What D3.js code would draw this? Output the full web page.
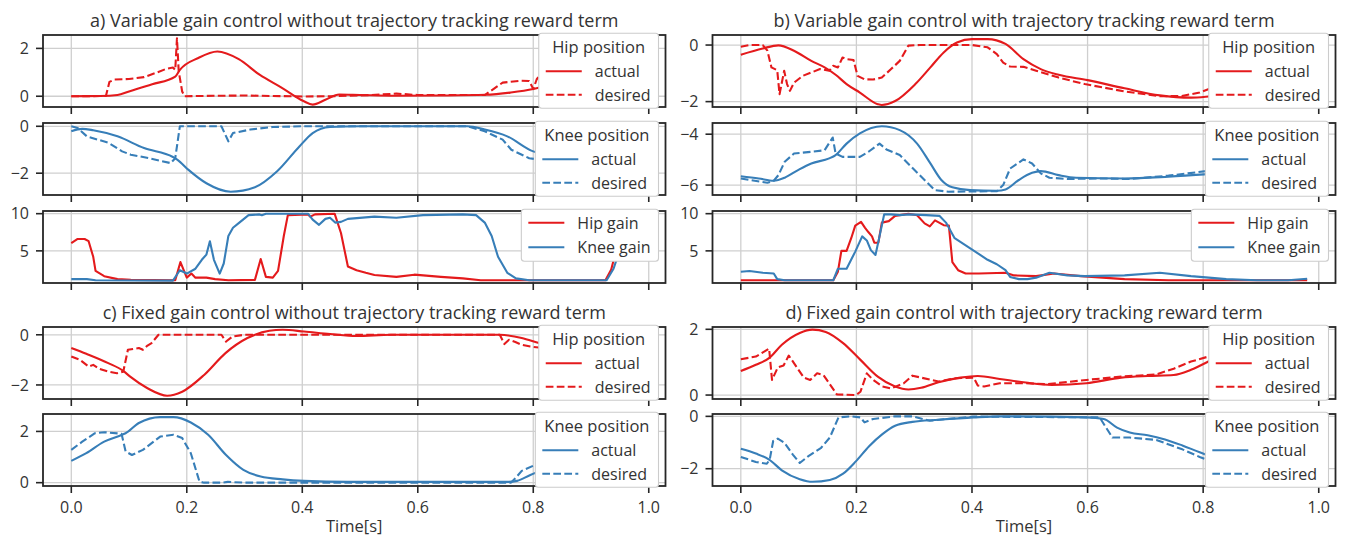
<!DOCTYPE html>
<html>
<head>
<meta charset="utf-8">
<script src="https://cdnjs.cloudflare.com/ajax/libs/d3/7.8.5/d3.min.js"></script>
<style>
  body { margin: 0; background: #fff; }
  text { font-family: "Open Sans", sans-serif; fill: #333; }
</style>
</head>
<body>
<script>
// time in seconds
var xTicks = [0, 0.2, 0.4, 0.6, 0.8, 1.0];
var titles = [
  "a) Variable gain control without trajectory tracking reward term",
  "b) Variable gain control with trajectory tracking reward term",
  "c) Fixed gain control without trajectory tracking reward term",
  "d) Fixed gain control with trajectory tracking reward term"
];
var xLabel = "Time[s]";

// a) variable gain, no tracking term
var aHipActual = [[0,0],[0.05,0.01],[0.08,0.05],[0.1,0.2],[0.14,0.5],[0.18,0.82],[0.188,1.1],[0.22,1.6],[0.253,1.87],[0.29,1.55],[0.326,0.9],[0.364,0.36],[0.402,-0.2],[0.418,-0.35],[0.44,-0.15],[0.464,0.07],[0.5,0.05],[0.56,0.02],[0.64,0.03],[0.717,0.06],[0.76,0.15],[0.8,0.3],[0.83,0.5]];
var aHipDesired = [[0,0],[0.06,0.01],[0.066,0.6],[0.075,0.7],[0.1,0.72],[0.126,0.8],[0.149,1.0],[0.165,1.15],[0.176,1.2],[0.18,1.1],[0.183,2.42],[0.186,1.05],[0.192,0.2],[0.196,0.0],[0.25,0.02],[0.3,0.03],[0.4,-0.01],[0.45,0.0],[0.52,0.05],[0.563,0.11],[0.6,0.05],[0.716,0.05],[0.747,0.57],[0.778,0.65],[0.793,0.64],[0.8,0.3],[0.806,0.71],[0.812,0.9],[0.818,0.57],[0.83,1.2]];
var aKneeActual = [[0,-0.21],[0.019,-0.11],[0.038,-0.17],[0.08,-0.43],[0.126,-0.93],[0.176,-1.31],[0.184,-1.43],[0.203,-1.86],[0.234,-2.43],[0.276,-2.79],[0.318,-2.6],[0.356,-1.93],[0.395,-0.86],[0.418,-0.29],[0.448,-0.03],[0.5,0],[0.686,0],[0.716,-0.14],[0.755,-0.43],[0.8,-1.07],[0.82,-1.2]];
var aKneeDesired = [[0,0],[0.011,-0.07],[0.027,-0.43],[0.065,-0.71],[0.088,-1.07],[0.103,-1.21],[0.134,-1.36],[0.172,-1.57],[0.18,-1.36],[0.188,0],[0.26,0],[0.272,-0.64],[0.28,-0.29],[0.31,-0.14],[0.349,-0.03],[0.4,0],[0.686,0],[0.716,-0.21],[0.747,-0.57],[0.762,-1.0],[0.793,-1.36],[0.82,-1.46]];
var aHipGain = [[0,6.05],[0.011,6.6],[0.023,6.6],[0.03,6.3],[0.038,4.2],[0.042,2.3],[0.057,1.6],[0.08,1.2],[0.103,1.1],[0.18,1.05],[0.189,3.5],[0.2,1.4],[0.208,1.95],[0.215,1.4],[0.234,1.4],[0.249,1.2],[0.272,1.05],[0.318,1.1],[0.328,3.9],[0.337,1.5],[0.349,1.4],[0.358,2.3],[0.368,7.0],[0.375,9.8],[0.41,9.9],[0.414,9.6],[0.422,9.9],[0.456,10],[0.467,7.4],[0.479,2.9],[0.494,2.4],[0.51,2.05],[0.525,1.75],[0.563,1.5],[0.594,1.8],[0.64,1.5],[0.678,1.3],[0.709,1.05],[0.925,1.05],[0.935,2.5],[0.94,4]];
var aKneeGain = [[0,1.2],[0.027,1.2],[0.042,1.05],[0.176,1.0],[0.188,2.4],[0.2,1.95],[0.215,2.6],[0.226,3.8],[0.234,4.5],[0.24,6.3],[0.247,3.8],[0.257,1.95],[0.264,3.3],[0.272,7.0],[0.28,8.1],[0.291,8.8],[0.307,9.8],[0.326,9.9],[0.33,9.8],[0.337,10],[0.41,10],[0.418,9.2],[0.429,8.5],[0.44,9.3],[0.448,9.45],[0.457,8.8],[0.467,8.9],[0.479,9.3],[0.525,9.6],[0.563,9.45],[0.609,9.8],[0.678,9.9],[0.701,9.8],[0.716,8.8],[0.728,7.0],[0.739,4.2],[0.755,2.05],[0.77,1.3],[0.793,1.05],[0.927,1.05],[0.939,2.6],[0.945,4]];

// b) variable gain, with tracking term
var bHipActual = [[0,-0.34],[0.038,-0.12],[0.065,-0.01],[0.092,-0.2],[0.122,-0.56],[0.145,-0.79],[0.164,-1.05],[0.183,-1.38],[0.206,-1.68],[0.237,-2.09],[0.244,-2.12],[0.267,-1.98],[0.302,-1.38],[0.328,-0.79],[0.351,-0.26],[0.374,0.09],[0.4,0.21],[0.427,0.21],[0.458,0.04],[0.489,-0.5],[0.519,-0.85],[0.55,-1.05],[0.6,-1.24],[0.664,-1.53],[0.725,-1.78],[0.779,-1.86],[0.809,-1.82],[0.828,-1.78]];
var bHipDesired = [[0,-0.06],[0.015,0],[0.038,0],[0.046,-0.2],[0.053,-0.79],[0.063,-0.89],[0.067,-1.74],[0.075,-0.91],[0.08,-1.38],[0.085,-1.62],[0.092,-1.33],[0.107,-1.09],[0.122,-0.97],[0.137,-0.85],[0.153,-0.91],[0.16,-0.73],[0.168,-0.79],[0.176,-0.44],[0.183,-0.5],[0.195,-0.53],[0.202,-1.09],[0.214,-1.21],[0.229,-1.22],[0.244,-1.15],[0.26,-0.85],[0.275,-0.56],[0.29,-0.02],[0.31,0],[0.4,0],[0.427,-0.08],[0.443,-0.32],[0.454,-0.62],[0.466,-0.76],[0.489,-0.77],[0.511,-0.91],[0.55,-1.15],[0.595,-1.38],[0.664,-1.64],[0.725,-1.81],[0.763,-1.8],[0.794,-1.68],[0.817,-1.5],[0.828,-1.33]];
var bKneeActual = [[0,-5.65],[0.031,-5.74],[0.057,-5.83],[0.076,-5.71],[0.099,-5.41],[0.122,-5.15],[0.153,-4.95],[0.164,-4.82],[0.183,-4.37],[0.206,-3.97],[0.244,-3.69],[0.275,-3.84],[0.305,-4.37],[0.328,-5.15],[0.347,-5.8],[0.366,-6.09],[0.397,-6.2],[0.443,-6.22],[0.458,-6.17],[0.481,-5.8],[0.504,-5.52],[0.519,-5.45],[0.55,-5.61],[0.58,-5.71],[0.664,-5.74],[0.74,-5.67],[0.809,-5.57]];
var bKneeDesired = [[0,-5.74],[0.015,-5.8],[0.046,-5.91],[0.057,-5.83],[0.065,-5.61],[0.076,-5.08],[0.092,-4.76],[0.122,-4.69],[0.145,-4.63],[0.159,-4.13],[0.164,-4.76],[0.176,-4.89],[0.206,-4.89],[0.221,-4.69],[0.24,-4.37],[0.252,-4.6],[0.275,-4.82],[0.298,-5.35],[0.321,-5.87],[0.336,-6.2],[0.359,-6.26],[0.443,-6.24],[0.454,-6.0],[0.466,-5.35],[0.489,-4.99],[0.504,-5.15],[0.519,-5.54],[0.534,-5.71],[0.565,-5.76],[0.626,-5.74],[0.672,-5.76],[0.74,-5.63],[0.809,-5.44]];
var bHipGain = [[0,1.05],[0.16,1.05],[0.168,2.2],[0.174,5.0],[0.183,5.0],[0.191,6.7],[0.198,8.4],[0.208,8.9],[0.215,8.1],[0.221,7.5],[0.227,6.95],[0.231,6.1],[0.238,6.1],[0.244,8.8],[0.256,9.0],[0.267,9.7],[0.29,10],[0.305,9.8],[0.318,8.7],[0.327,8.3],[0.336,9.1],[0.351,8.45],[0.36,8.4],[0.366,3.5],[0.376,2.4],[0.389,1.95],[0.412,1.95],[0.458,2.05],[0.473,1.7],[0.511,1.6],[0.542,1.95],[0.588,1.6],[0.664,1.2],[0.74,1.05],[0.98,1.05]];
var bKneeGain = [[0,2.2],[0.015,2.3],[0.038,2.05],[0.057,1.95],[0.063,1.2],[0.076,1.05],[0.16,1.05],[0.168,2.6],[0.183,2.6],[0.198,4.9],[0.21,6.95],[0.218,6.4],[0.225,5.1],[0.233,4.45],[0.24,6.95],[0.248,9.9],[0.26,9.9],[0.275,9.8],[0.29,9.9],[0.321,9.8],[0.344,9.7],[0.355,8.8],[0.37,6.7],[0.397,5.35],[0.427,3.8],[0.443,3.2],[0.458,2.4],[0.466,1.5],[0.481,1.2],[0.496,1.2],[0.511,1.4],[0.534,2.05],[0.565,1.7],[0.595,1.6],[0.664,1.7],[0.725,2.05],[0.779,1.6],[0.84,1.2],[0.893,1.05],[0.947,1.05],[0.98,1.25]];

// c) fixed gain, no tracking term
var cHipActual = [[0,-0.53],[0.026,-0.76],[0.064,-1.13],[0.09,-1.44],[0.102,-1.67],[0.132,-2.13],[0.166,-2.43],[0.192,-2.27],[0.23,-1.6],[0.267,-0.73],[0.305,-0.13],[0.343,0.16],[0.366,0.2],[0.403,0.13],[0.448,0.03],[0.494,-0.05],[0.554,0],[0.742,0],[0.78,-0.13],[0.81,-0.33],[0.833,-0.47]];
var cHipDesired = [[0,-0.87],[0.015,-1.0],[0.03,-1.27],[0.038,-1.2],[0.049,-1.36],[0.064,-1.47],[0.079,-1.53],[0.09,-1.47],[0.098,-0.6],[0.117,-0.53],[0.124,-0.6],[0.132,-0.43],[0.139,-0.33],[0.151,0],[0.26,0],[0.268,-0.27],[0.279,-0.07],[0.3,0],[0.742,0],[0.75,-0.37],[0.758,-0.2],[0.769,-0.29],[0.78,-0.4],[0.795,-0.47],[0.818,-0.53],[0.833,-0.67]];
var cKneeActual = [[0,0.85],[0.026,1.15],[0.057,1.6],[0.087,1.86],[0.094,1.93],[0.117,2.33],[0.154,2.56],[0.177,2.56],[0.207,2.35],[0.237,1.87],[0.268,1.08],[0.298,0.5],[0.328,0.24],[0.366,0.13],[0.403,0.07],[0.479,0.03],[0.757,0.03],[0.772,0.07],[0.795,0.3],[0.818,0.5]];
var cKneeDesired = [[0,1.28],[0.019,1.6],[0.041,1.93],[0.057,1.97],[0.087,1.91],[0.094,1.22],[0.105,1.08],[0.124,1.28],[0.154,1.8],[0.177,1.87],[0.192,1.74],[0.207,1.15],[0.222,0.04],[0.23,0],[0.26,0],[0.271,0.03],[0.3,0],[0.761,0],[0.769,0.17],[0.78,0.46],[0.81,0.76]];

// d) fixed gain, with tracking term
var dHipActual = [[0,0.73],[0.026,0.92],[0.05,1.14],[0.071,1.53],[0.102,1.89],[0.124,1.99],[0.147,1.92],[0.177,1.58],[0.207,1.07],[0.237,0.56],[0.267,0.26],[0.29,0.17],[0.312,0.22],[0.342,0.39],[0.38,0.53],[0.41,0.58],[0.448,0.49],[0.493,0.38],[0.538,0.31],[0.598,0.36],[0.658,0.53],[0.704,0.58],[0.749,0.61],[0.779,0.77],[0.809,1.02],[0.831,1.22]];
var dHipDesired = [[0,1.09],[0.026,1.17],[0.049,1.41],[0.054,0.46],[0.064,0.84],[0.074,0.9],[0.083,1.2],[0.094,0.92],[0.109,0.53],[0.12,0.46],[0.132,0.66],[0.143,0.61],[0.154,0.33],[0.166,0.02],[0.199,0],[0.207,0.1],[0.218,0.66],[0.229,0.46],[0.245,0.26],[0.26,0.2],[0.282,0.36],[0.297,0.59],[0.312,0.53],[0.342,0.41],[0.372,0.51],[0.403,0.53],[0.41,0.29],[0.421,0.26],[0.448,0.36],[0.493,0.36],[0.53,0.33],[0.598,0.46],[0.658,0.56],[0.719,0.63],[0.749,0.8],[0.779,1.02],[0.809,1.17],[0.831,1.38]];
var dKneeActual = [[0,-1.24],[0.026,-1.42],[0.049,-1.65],[0.071,-2.06],[0.102,-2.4],[0.124,-2.5],[0.154,-2.43],[0.177,-2.19],[0.199,-1.72],[0.222,-1.14],[0.245,-0.68],[0.267,-0.36],[0.297,-0.21],[0.342,-0.13],[0.403,-0.04],[0.448,0],[0.598,-0.04],[0.628,-0.1],[0.651,-0.43],[0.673,-0.62],[0.704,-0.72],[0.734,-0.88],[0.764,-1.11],[0.794,-1.37],[0.813,-1.52]];
var dKneeDesired = [[0,-1.55],[0.026,-1.74],[0.045,-1.81],[0.05,-1.65],[0.056,-0.94],[0.064,-0.85],[0.075,-1.0],[0.09,-1.46],[0.102,-1.78],[0.117,-1.52],[0.139,-1.2],[0.154,-0.81],[0.169,-0.04],[0.192,0],[0.207,-0.04],[0.214,-0.23],[0.229,-0.1],[0.267,0],[0.297,0],[0.327,-0.17],[0.357,-0.1],[0.403,-0.01],[0.621,-0.04],[0.632,-0.43],[0.643,-0.81],[0.673,-0.81],[0.719,-0.9],[0.764,-1.26],[0.794,-1.55],[0.813,-1.72]];

var w = 1347;
var h = 540;
var red = "#e41a1c";
var blue = "#377eb8";
var ink = "#262626";
var gridCol = "#cfcfcf";
var panelH = 72;
var cols = [[43, 665.5], [712.5, 1335.5]];
var xDomain = [-0.049, 1.029];

var svg = d3.select("body")
            .append("svg")
            .attr("width", w)
            .attr("height", h);

var hipLegend = {title: "Hip position", items: [["actual", red, false], ["desired", red, true]]};
var kneeLegend = {title: "Knee position", items: [["actual", blue, false], ["desired", blue, true]]};
var gainLegend = {title: null, items: [["Hip gain", red, false], ["Knee gain", blue, false]]};

function pos(a, d) { return [{d: a, c: red, dash: false, smooth: true}, {d: d, c: red, dash: true}]; }
function kpos(a, d) { return [{d: a, c: blue, dash: false, smooth: true}, {d: d, c: blue, dash: true}]; }
function gains(hp, kn) { return [{d: hp, c: red}, {d: kn, c: blue}]; }

var panels = [
  {col: 0, top: 35,  y: [-0.45, 2.56],  ticks: [0, 2],   lines: pos(aHipActual, aHipDesired),    legend: hipLegend},
  {col: 0, top: 123, y: [-2.93, 0.14],  ticks: [-2, 0],  lines: kpos(aKneeActual, aKneeDesired), legend: kneeLegend},
  {col: 0, top: 211, y: [0.68, 10.36],  ticks: [5, 10],  lines: gains(aHipGain, aKneeGain),      legend: gainLegend},
  {col: 1, top: 35,  y: [-2.19, 0.355], ticks: [-2, 0],  lines: pos(bHipActual, bHipDesired),    legend: hipLegend},
  {col: 1, top: 123, y: [-6.39, -3.56], ticks: [-6, -4], lines: kpos(bKneeActual, bKneeDesired), legend: kneeLegend},
  {col: 1, top: 211, y: [0.68, 10.36],  ticks: [5, 10],  lines: gains(bHipGain, bKneeGain),      legend: gainLegend},
  {col: 0, top: 327, y: [-2.56, 0.31],  ticks: [-2, 0],  lines: pos(cHipActual, cHipDesired),    legend: hipLegend},
  {col: 0, top: 414, y: [-0.13, 2.68],  ticks: [0, 2],   lines: kpos(cKneeActual, cKneeDesired), legend: kneeLegend, xlab: true},
  {col: 1, top: 327, y: [-0.12, 2.07],  ticks: [0, 2],   lines: pos(dHipActual, dHipDesired),    legend: hipLegend},
  {col: 1, top: 414, y: [-2.66, 0.09],  ticks: [-2, 0],  lines: kpos(dKneeActual, dKneeDesired), legend: kneeLegend, xlab: true}
];

function minus(s) { return String(s).replace("-", "\u2212"); }

function drawPanel(p, i) {
  var x0 = cols[p.col][0], x1 = cols[p.col][1];
  var y0 = p.top, y1 = p.top + panelH;
  var x = d3.scaleLinear().domain(xDomain).range([x0, x1]);
  var y = d3.scaleLinear().domain(p.y).range([y1, y0]);
  var g = svg.append("g");

  g.append("clipPath").attr("id", "clip" + i)
    .append("rect").attr("x", x0).attr("y", y0).attr("width", x1 - x0).attr("height", panelH);

  // grid
  g.selectAll(".vgrid").data(xTicks).enter().append("line")
    .attr("x1", function(d) { return x(d); }).attr("x2", function(d) { return x(d); })
    .attr("y1", y0).attr("y2", y1)
    .attr("stroke", gridCol).attr("stroke-width", 1.3);
  g.selectAll(".hgrid").data(p.ticks).enter().append("line")
    .attr("x1", x0).attr("x2", x1)
    .attr("y1", function(d) { return y(d); }).attr("y2", function(d) { return y(d); })
    .attr("stroke", gridCol).attr("stroke-width", 1.3);

  // series
  var plot = g.append("g").attr("clip-path", "url(#clip" + i + ")");
  p.lines.forEach(function(s) {
    var line = d3.line()
      .x(function(d) { return x(d[0]); })
      .y(function(d) { return y(d[1]); })
      .curve(s.smooth ? d3.curveMonotoneX : d3.curveLinear);
    plot.append("path")
      .attr("d", line(s.d))
      .attr("fill", "none")
      .attr("stroke", s.c)
      .attr("stroke-width", 2.1)
      .attr("stroke-linejoin", "round")
      .attr("stroke-dasharray", s.dash ? "7.7,3.3" : null);
  });

  // frame
  g.append("rect")
    .attr("x", x0).attr("y", y0).attr("width", x1 - x0).attr("height", panelH)
    .attr("fill", "none").attr("stroke", ink).attr("stroke-width", 1.8);

  // ticks
  g.selectAll(".xt").data(xTicks).enter().append("line")
    .attr("x1", function(d) { return x(d); }).attr("x2", function(d) { return x(d); })
    .attr("y1", y1).attr("y2", y1 + 7)
    .attr("stroke", ink).attr("stroke-width", 1.6);
  g.selectAll(".yt").data(p.ticks).enter().append("line")
    .attr("x1", x0 - 7).attr("x2", x0)
    .attr("y1", function(d) { return y(d); }).attr("y2", function(d) { return y(d); })
    .attr("stroke", ink).attr("stroke-width", 1.6);
  g.selectAll(".yl").data(p.ticks).enter().append("text")
    .attr("x", x0 - 14).attr("y", function(d) { return y(d); })
    .attr("dy", "0.36em")
    .attr("text-anchor", "end")
    .attr("font-size", 16)
    .text(function(d) { return minus(d); });

  if (p.xlab) {
    g.selectAll(".xl").data(xTicks).enter().append("text")
      .attr("x", function(d) { return x(d); }).attr("y", y1 + 27)
      .attr("text-anchor", "middle")
      .attr("font-size", 16)
      .text(function(d) { return d3.format(".1f")(d); });
    g.append("text")
      .attr("x", (x0 + x1) / 2).attr("y", 532)
      .attr("text-anchor", "middle")
      .attr("font-size", 16.5)
      .text(xLabel);
  }

  drawLegend(p, x1);
}

function drawLegend(p, x1) {
  var lg = p.legend;
  var G = svg.append("g");
  var box = G.append("rect");
  var top = p.top - 1.7;
  var texts = [];
  var rowY = lg.title ? [top + 38, top + 61.5] : [top + 13.5, top + 38];
  var height = lg.title ? 75 : 52;
  var tt = null;
  if (lg.title) {
    tt = G.append("text").attr("font-size", 16.5).attr("text-anchor", "middle")
      .attr("y", top + 14).attr("dy", "0.36em").text(lg.title);
  }
  lg.items.forEach(function(it, k) {
    texts.push(G.append("text").attr("font-size", 16).attr("y", rowY[k]).attr("dy", "0.36em").text(it[0]));
  });
  var wid = 0;
  texts.forEach(function(t) { wid = Math.max(wid, 56 + t.node().getComputedTextLength() + 8); });
  if (tt) wid = Math.max(wid, tt.node().getComputedTextLength() + 18);
  var right = x1 - 7;
  var left = right - wid;
  box.attr("x", left).attr("y", top).attr("width", wid).attr("height", height)
    .attr("rx", 3).attr("fill", "#fff").attr("stroke", "#cccccc").attr("stroke-width", 1.1);
  if (tt) tt.attr("x", left + wid / 2);
  lg.items.forEach(function(it, k) {
    texts[k].attr("x", left + 56);
    G.append("line")
      .attr("x1", left + 7).attr("x2", left + 43)
      .attr("y1", rowY[k]).attr("y2", rowY[k])
      .attr("stroke", it[1]).attr("stroke-width", 2.1)
      .attr("stroke-dasharray", it[2] ? "7.7,3.3" : null);
  });
}

panels.forEach(drawPanel);

// titles
var titlePos = [[0, 35], [1, 35], [0, 327], [1, 327]];
svg.selectAll(".title").data(titles).enter().append("text")
  .attr("x", function(d, i) { var c = cols[titlePos[i][0]]; return (c[0] + c[1]) / 2; })
  .attr("y", function(d, i) { return titlePos[i][1] - 8.5; })
  .attr("text-anchor", "middle")
  .attr("font-size", 18)
  .text(function(d) { return d; });
</script>
</body>
</html>
